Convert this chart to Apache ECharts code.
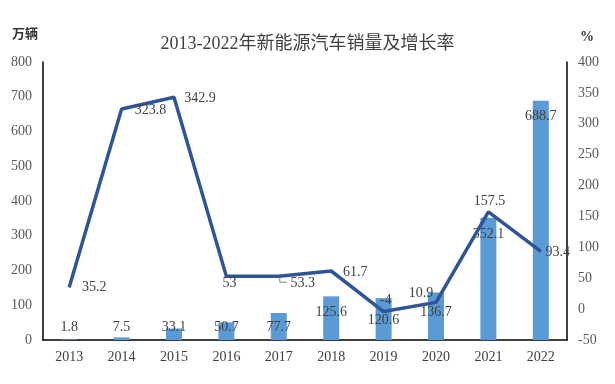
<!DOCTYPE html>
<html>
<head>
<meta charset="utf-8">
<script src="https://cdn.jsdelivr.net/npm/echarts@6/dist/echarts.min.js"></script>
<style>html,body{margin:0;padding:0;background:#fff;}#c{width:615px;height:384px;}</style>
</head>
<body>
<div id="c"></div>
<script>
var categories = ['2013','2014','2015','2016','2017','2018','2019','2020','2021','2022'];
var sales = [1.8, 7.5, 33.1, 50.7, 77.7, 125.6, 120.6, 136.7, 352.1, 688.7];
var growth = [35.2, 323.8, 342.9, 53, 53.3, 61.7, -4, 10.9, 157.5, 93.4];
var leftTicks = [0, 800, 100];
var rightTicks = [-50, 400, 50];

// label layout (pixels)
var barLabelRise = [13, 13, 13, 13, 13, 28, 20, 28, 106, 224];
var lineLabelOffset = [[25,0],[29,1],[26,1],[3,7],[24,7],[24,1],[2,-11],[-15,-9],[1,-10],[17,1]];
var leaderIndex = 4;

var serif = 'Liberation Serif, "Times New Roman", "Noto Sans CJK SC", serif';
var txt = '#404040';

var chart = echarts.init(document.getElementById('c'));
chart.setOption({
  backgroundColor: '#fff',
  animation: false,
  title: {
    text: '2013-2022年新能源汽车销量及增长率',
    left: 'center', top: 30,
    textStyle: {fontFamily: serif, fontSize: 18, fontWeight: 'normal', color: '#404040'}
  },
  graphic: [
    {type: 'text', left: 12, top: 27, style: {text: '万辆', font: 'bold 13px "Noto Sans CJK SC"', fill: '#333'}},
    {type: 'text', left: 580, top: 30, style: {text: '%', font: 'bold 14px ' + serif, fill: '#333'}}
  ],
  grid: {left: 43, right: 48, top: 62, bottom: 44},
  xAxis: {
    type: 'category', data: categories,
    axisLine: {lineStyle: {color: '#000', width: 1.5}},
    axisTick: {show: false},
    axisLabel: {fontFamily: serif, fontSize: 14, color: txt, margin: 10}
  },
  yAxis: [
    {
      type: 'value', min: leftTicks[0], max: leftTicks[1], interval: leftTicks[2],
      axisLine: {show: true, lineStyle: {color: '#000', width: 1.5}},
      axisTick: {show: false}, splitLine: {show: false},
      axisLabel: {fontFamily: serif, fontSize: 14, color: '#595959', margin: 11}
    },
    {
      type: 'value', min: rightTicks[0], max: rightTicks[1], interval: rightTicks[2],
      axisLine: {show: true, lineStyle: {color: '#000', width: 1.5}},
      axisTick: {show: false}, splitLine: {show: false},
      axisLabel: {fontFamily: serif, fontSize: 14, color: '#595959', margin: 11}
    }
  ],
  series: [
    {
      type: 'bar', yAxisIndex: 0, barWidth: 16,
      itemStyle: {color: '#5B9BD5'},
      data: sales.map(function (v, i) {
        return {value: v, label: {show: true, position: 'insideBottom', distance: 0,
          offset: [0, -(barLabelRise[i] - 7)],
          fontFamily: serif, fontSize: 14, color: txt}};
      }),
      z: 1
    },
    {
      type: 'line', yAxisIndex: 1,
      symbol: 'circle', symbolSize: 1, showSymbol: true,
      lineStyle: {color: '#2F5597', width: 3.5},
      itemStyle: {color: '#2F5597'},
      data: growth.map(function (v, i) {
        return {value: v, label: {show: true, position: 'inside',
          offset: lineLabelOffset[i],
          fontFamily: serif, fontSize: 14, color: txt}};
      }),
      z: 3
    }
  ]
});
// small leader line for the 2017 growth label
var p = chart.convertToPixel({xAxisIndex: 0, yAxisIndex: 1}, [leaderIndex, growth[leaderIndex]]);
chart.setOption({graphic: [
  {type: 'text', left: 12, top: 27, style: {text: '万辆', font: 'bold 13px "Noto Sans CJK SC"', fill: '#333'}},
  {type: 'text', left: 580, top: 30, style: {text: '%', font: 'bold 14px ' + serif, fill: '#333'}},
  {type: 'polyline', silent: true, z: 10,
   shape: {points: [[p[0] + 1, p[1] + 2], [p[0] + 1, p[1] + 6], [p[0] + 8, p[1] + 6]]},
   style: {stroke: '#808080', lineWidth: 1, fill: null}}
]}, {replaceMerge: ['graphic']});
</script>
</body>
</html>
